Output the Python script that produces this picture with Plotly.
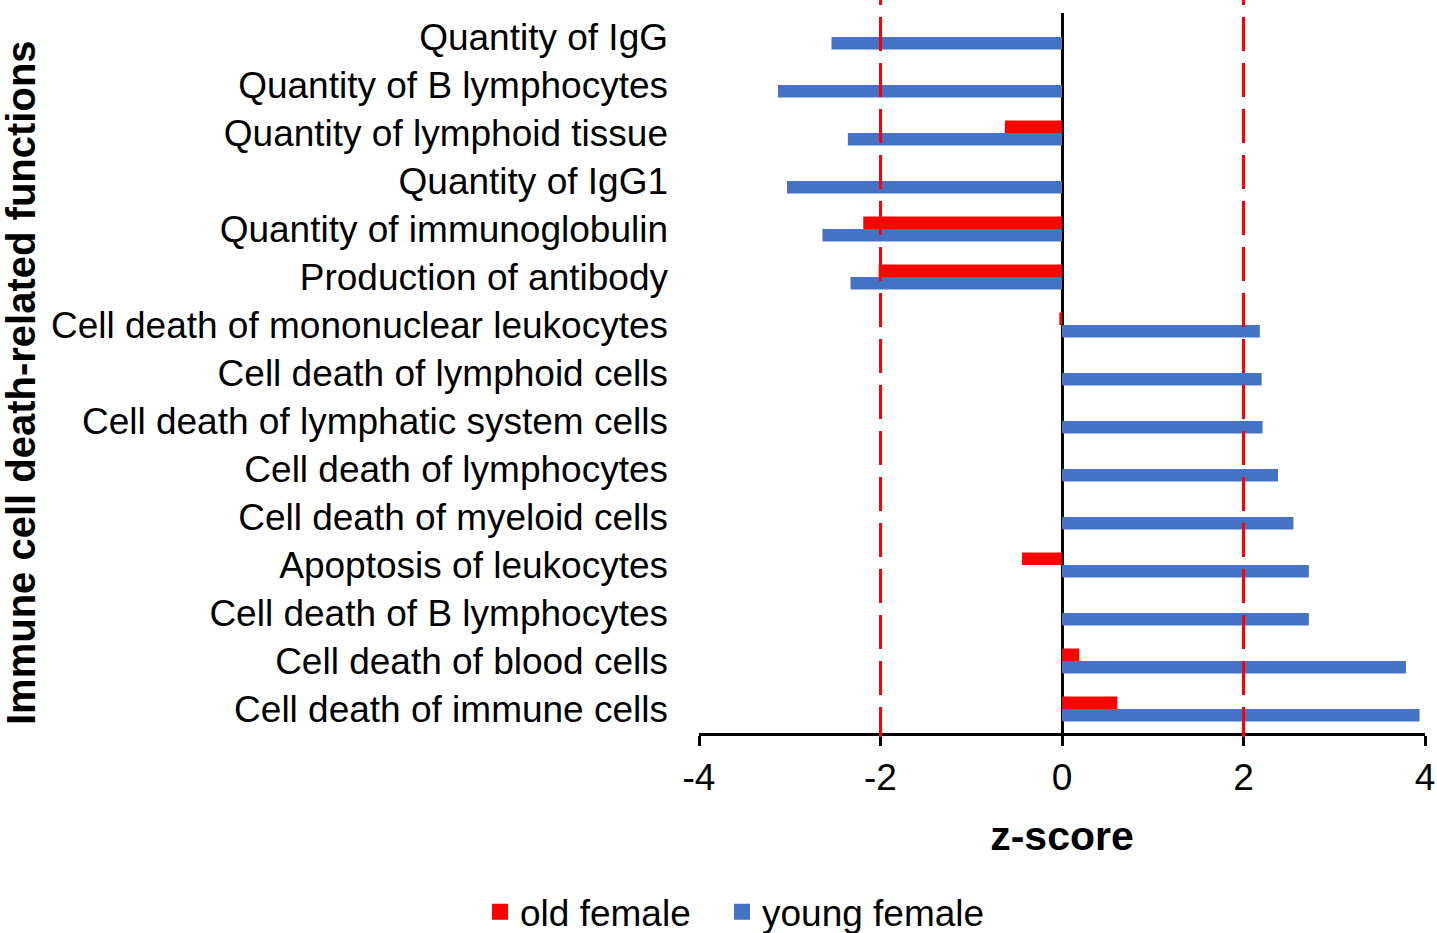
import plotly.graph_objects as go

categories = [
    "Quantity of IgG",
    "Quantity of B lymphocytes",
    "Quantity of lymphoid tissue",
    "Quantity of IgG1",
    "Quantity of immunoglobulin",
    "Production of antibody",
    "Cell death of mononuclear leukocytes",
    "Cell death of lymphoid cells",
    "Cell death of lymphatic system cells",
    "Cell death of lymphocytes",
    "Cell death of myeloid cells",
    "Apoptosis of leukocytes",
    "Cell death of B lymphocytes",
    "Cell death of blood cells",
    "Cell death of immune cells",
]
old_female = [0, 0, -0.63, 0, -2.19, -2.02, -0.03, 0, 0, 0, 0, -0.44, 0, 0.19, 0.61]
young_female = [-2.54, -3.13, -2.36, -3.03, -2.64, -2.33, 2.18, 2.20, 2.21, 2.38, 2.55, 2.72, 2.72, 3.79, 3.94]
threshold_values = [-2, 2]
x_ticks = [-4, -2, 0, 2, 4]
series_names = ["old female", "young female"]
series_colors = ["#FF0000", "#4472C4"]

FONT = "Arial, Liberation Sans, sans-serif"

fig = go.Figure()
for vals, name, color in zip([old_female, young_female], series_names, series_colors):
    fig.add_trace(go.Bar(y=categories, x=vals, orientation="h", name=name,
                         marker=dict(color=color, line=dict(width=0)), showlegend=False))
# legend entries with larger square swatches
legend_widths = [197, None]
for name, color, lw in zip(series_names, series_colors, legend_widths):
    kw = {"legendwidth": lw} if lw else {}
    fig.add_trace(go.Scatter(x=[None], y=[None], mode="markers", name=name,
                             marker=dict(symbol="square", size=19, color=color),
                             showlegend=True, **kw))

for v in threshold_values:
    fig.add_shape(type="line", xref="x", yref="paper", x0=v, x1=v,
                  y0=1 + 42 / 720, y1=-4 / 720,
                  line=dict(color="#FF0000", width=3, dash="34px,12px"), layer="above")

fig.update_layout(
    width=1437, height=933,
    margin=dict(l=699, r=12, t=13, b=200, autoexpand=False),
    paper_bgcolor="white", plot_bgcolor="white",
    barmode="group", bargap=0.48, bargroupgap=0,
    font=dict(family=FONT, color="black", size=36),
    showlegend=True,
    legend=dict(orientation="h", x=(480 - 699) / 726, xanchor="left", y=-0.249, yanchor="middle",
                font=dict(size=37, family=FONT, color="black"), traceorder="normal",
                itemwidth=30, itemsizing="trace"),
    xaxis=dict(range=[-4, 4], tickvals=x_ticks, ticktext=[str(t) for t in x_ticks],
               showgrid=False, zeroline=True, zerolinecolor="black", zerolinewidth=3,
               showline=True, linecolor="black", linewidth=2.5,
               ticks="outside", ticklen=10, tickwidth=2.5, tickcolor="black",
               tickfont=dict(size=37, family=FONT, color="black"),
               title=dict(text="<b>z-score</b>", font=dict(size=41, family=FONT, color="black"),
                          standoff=25),
               automargin=False),
    yaxis=dict(autorange="reversed", showgrid=False, zeroline=False, showline=False,
               ticks="", ticklabelstandoff=30,
               tickfont=dict(size=37, family=FONT, color="black"), automargin=False),
)

fig.add_annotation(text="<b>Immune cell death-related functions</b>", xref="paper", yref="paper",
                   x=(21 - 699) / 726, y=(733 - 383) / 720, xanchor="center", yanchor="middle",
                   textangle=-90, showarrow=False, height=42,
                   font=dict(size=40, family=FONT, color="black"))

fig.write_html("out.html", config={"displayModeBar": False},
               post_script="document.body.style.margin='0';document.body.style.padding='0';")
